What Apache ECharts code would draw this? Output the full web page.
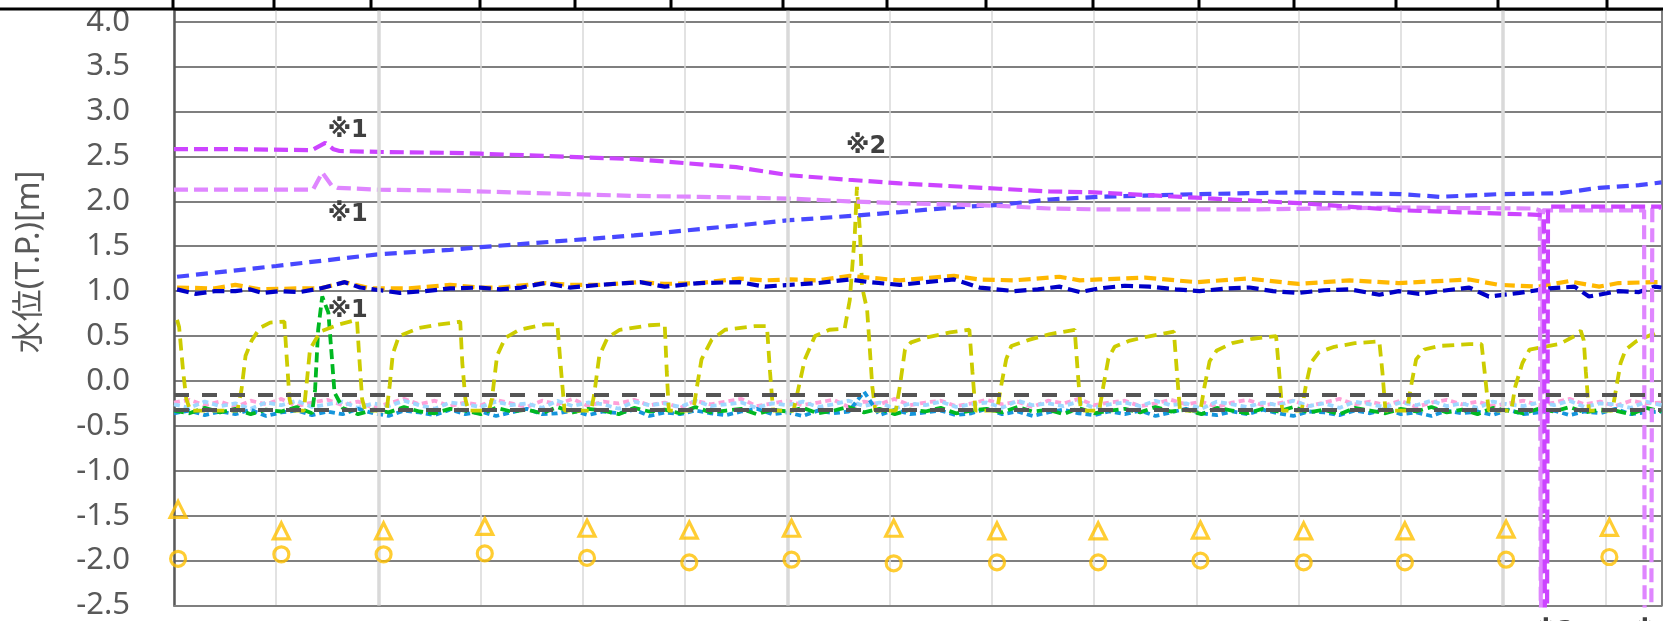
<!DOCTYPE html>
<html>
<head>
<meta charset="utf-8">
<title>水位</title>
<script src="https://cdn.jsdelivr.net/npm/echarts@6/dist/echarts.min.js"></script>
<style>
  html, body { margin: 0; padding: 0; background: #fff; }
  #chart { width: 1663px; height: 621px; }
</style>
</head>
<body>
<div id="chart"></div>
<script>
// x unit = one vertical grid interval (monthly), y = 水位 T.P.[m]
const yTicks = { min: -2.5, max: 4.13, step: 0.5 }

// upper lines, [x, y]
const magentaLine = [[0, 2.58], [0.6, 2.58], [1.35, 2.57], [1.48, 2.65], [1.56, 2.58], [1.62, 2.56], [2.0, 2.55],
  [2.7, 2.54], [3.0, 2.53], [4.5, 2.47], [5.5, 2.38], [6.02, 2.29], [6.6, 2.24], [7.1, 2.2], [8.07, 2.14],
  [8.56, 2.11], [9.0, 2.1], [10.0, 2.04], [11.0, 1.98], [12.0, 1.9], [12.8, 1.87], [13.34, 1.85],
  [13.4, 1.84], [13.41, -3], [13.43, -3], [13.44, 1.94], [14.55, 1.94]]
const lightPinkLine = [[0, 2.13], [1.36, 2.13], [1.45, 2.32], [1.54, 2.18], [1.6, 2.15], [2.0, 2.13], [2.7, 2.12],
  [4.5, 2.06], [5.14, 2.05], [6.02, 2.03], [6.6, 2.0], [7.1, 1.98], [8.07, 1.95], [8.56, 1.92], [9.05, 1.91],
  [10.5, 1.91], [12.0, 1.93], [13.3, 1.92], [13.36, 1.9], [13.37, -3], [13.38, -3], [13.39, 1.9],
  [14.38, 1.9], [14.385, -3], [14.45, -3], [14.46, 1.92], [14.55, 1.93]]
const blueLine = [[0.03, 1.16], [1.0, 1.28], [2.0, 1.41], [2.7, 1.46], [3.0, 1.49], [4.5, 1.62], [5.5, 1.73],
  [6.02, 1.79], [6.66, 1.84], [7.1, 1.88], [7.6, 1.93], [8.07, 1.96], [8.56, 2.02], [9.05, 2.05], [10.0, 2.08],
  [11.0, 2.1], [12.0, 2.08], [12.38, 2.05], [12.96, 2.08], [13.55, 2.09], [13.94, 2.15], [14.33, 2.18], [14.55, 2.21]]
const darkBlueLine = [[0.03, 1.02], [0.21, 0.97], [0.4, 1.0], [0.6, 1.0], [0.74, 1.02], [0.86, 0.98], [1.03, 1.0],
  [1.23, 0.99], [1.43, 1.03], [1.67, 1.1], [1.82, 1.04], [2.02, 1.01], [2.21, 0.98], [2.45, 1.0], [2.7, 1.03],
  [2.99, 1.04], [3.19, 1.02], [3.4, 1.04], [3.63, 1.09], [3.87, 1.04], [4.16, 1.07], [4.56, 1.1], [4.8, 1.05],
  [5.14, 1.09], [5.53, 1.1], [5.78, 1.05], [6.02, 1.07], [6.3, 1.09], [6.61, 1.13], [6.8, 1.1], [7.1, 1.07],
  [7.35, 1.1], [7.63, 1.13], [7.88, 1.04], [8.22, 1.0], [8.45, 1.02], [8.66, 1.05], [8.86, 0.99], [9.05, 1.03],
  [9.3, 1.06], [9.54, 1.05], [9.8, 1.02], [10.03, 1.0], [10.3, 1.03], [10.52, 1.04], [10.75, 1.0], [11.0, 0.98],
  [11.25, 1.01], [11.5, 1.02], [11.79, 0.96], [11.98, 1.0], [12.18, 0.97], [12.45, 1.01], [12.67, 1.04],
  [12.86, 0.94], [13.16, 0.98], [13.45, 1.03], [13.7, 1.05], [13.84, 0.94], [14.13, 1.0], [14.33, 0.99],
  [14.48, 1.05], [14.55, 1.04]]
const orangeLine = [[0.03, 1.04], [0.4, 1.03], [0.6, 1.07], [0.84, 1.02], [1.2, 1.03], [1.43, 1.03], [1.67, 1.1],
  [1.92, 1.03], [2.3, 1.03], [2.7, 1.07], [2.99, 1.04], [3.19, 1.04], [3.63, 1.09], [3.87, 1.07], [4.16, 1.07],
  [4.56, 1.1], [4.8, 1.08], [5.14, 1.09], [5.53, 1.14], [5.78, 1.12], [6.02, 1.13], [6.3, 1.12], [6.61, 1.17],
  [7.1, 1.12], [7.63, 1.17], [7.88, 1.13], [8.22, 1.12], [8.66, 1.16], [8.86, 1.12], [9.05, 1.13], [9.5, 1.15],
  [10.0, 1.1], [10.5, 1.14], [11.0, 1.08], [11.5, 1.12], [11.98, 1.09], [12.67, 1.13], [12.96, 1.07],
  [13.34, 1.05], [13.64, 1.11], [13.94, 1.05], [14.13, 1.09], [14.48, 1.1], [14.55, 1.1]]
const yellowLine = [[0.03, 0.68], [0.05, 0.6], [0.09, 0.1], [0.12, -0.2], [0.16, -0.33],
  [0.62, -0.33], [0.66, -0.1], [0.7, 0.28], [0.76, 0.45], [0.84, 0.59], [0.94, 0.65], [1.08, 0.66], [1.1, 0.3], [1.13, -0.2], [1.16, -0.33],
  [1.27, -0.33], [1.3, 0.0], [1.33, 0.35], [1.43, 0.55], [1.62, 0.63], [1.79, 0.68], [1.81, 0.3], [1.84, -0.2], [1.87, -0.33],
  [2.08, -0.33], [2.11, -0.05], [2.14, 0.3], [2.2, 0.5], [2.4, 0.59], [2.6, 0.63], [2.8, 0.66], [2.82, 0.2], [2.85, -0.2], [2.88, -0.33],
  [3.08, -0.33], [3.11, -0.2], [3.16, 0.28], [3.24, 0.48], [3.38, 0.57], [3.63, 0.63], [3.75, 0.63], [3.78, 0.2], [3.82, -0.33],
  [4.08, -0.33], [4.11, -0.15], [4.16, 0.28], [4.24, 0.48], [4.36, 0.57], [4.65, 0.62], [4.8, 0.63], [4.82, 0.1], [4.84, -0.33],
  [5.08, -0.33], [5.11, -0.1], [5.16, 0.24], [5.26, 0.46], [5.39, 0.57], [5.68, 0.61], [5.8, 0.61], [5.83, 0.1], [5.86, -0.33],
  [6.06, -0.33], [6.12, -0.02], [6.17, 0.24], [6.27, 0.5], [6.41, 0.57], [6.56, 0.58], [6.61, 0.9], [6.66, 1.65], [6.68, 2.16],
  [6.71, 1.65], [6.73, 1.05], [6.78, 0.79], [6.8, 0.46], [6.83, -0.06], [6.86, -0.33],
  [7.06, -0.33], [7.1, -0.06], [7.15, 0.35], [7.21, 0.43], [7.34, 0.48], [7.59, 0.54], [7.78, 0.57], [7.81, 0.1], [7.84, -0.33],
  [8.05, -0.33], [8.09, -0.06], [8.14, 0.24], [8.19, 0.39], [8.37, 0.46], [8.56, 0.52], [8.81, 0.57], [8.84, 0.1], [8.87, -0.33],
  [9.05, -0.33], [9.09, -0.06], [9.14, 0.25], [9.2, 0.38], [9.35, 0.45], [9.55, 0.5], [9.78, 0.55], [9.81, 0.1], [9.84, -0.33],
  [10.04, -0.33], [10.08, -0.06], [10.13, 0.22], [10.2, 0.34], [10.35, 0.42], [10.55, 0.47], [10.78, 0.5], [10.81, 0.1], [10.84, -0.33],
  [11.03, -0.33], [11.07, -0.06], [11.12, 0.2], [11.2, 0.32], [11.35, 0.38], [11.55, 0.42], [11.79, 0.44], [11.82, 0.1], [11.85, -0.33],
  [12.06, -0.33], [12.1, -0.06], [12.15, 0.24], [12.23, 0.35], [12.38, 0.39], [12.67, 0.41], [12.79, 0.41], [12.82, 0.1], [12.86, -0.33],
  [13.08, -0.33], [13.12, -0.06], [13.19, 0.2], [13.26, 0.35], [13.35, 0.37], [13.55, 0.41], [13.7, 0.5], [13.76, 0.56], [13.79, 0.45], [13.81, 0.1], [13.84, -0.33],
  [14.07, -0.33], [14.11, -0.06], [14.15, 0.2], [14.2, 0.35], [14.3, 0.44], [14.5, 0.54], [14.55, 0.55]]

// lower noisy lines, one value every 0.15
const noiseStep = 0.15
const skyBlueVals = [-0.36, -0.33, -0.38, -0.34, -0.37, -0.32, -0.39, -0.35, -0.33, -0.38,
  -0.34, -0.37, -0.31, -0.36, -0.39, -0.33, -0.35, -0.38, -0.32, -0.37,
  -0.34, -0.39, -0.35, -0.31, -0.37, -0.36, -0.33, -0.38, -0.34, -0.36,
  -0.32, -0.39, -0.35, -0.37, -0.33, -0.36, -0.38, -0.34, -0.31, -0.37,
  -0.35, -0.39, -0.33, -0.36, -0.34, -0.12, -0.38, -0.32, -0.37, -0.35,
  -0.33, -0.38, -0.36, -0.31, -0.37, -0.34, -0.39, -0.35, -0.32, -0.36,
  -0.38, -0.34, -0.37, -0.33, -0.39, -0.35, -0.31, -0.36, -0.38, -0.34,
  -0.37, -0.32, -0.36, -0.39, -0.34, -0.35, -0.38, -0.33, -0.36, -0.31,
  -0.37, -0.35, -0.39, -0.33, -0.36, -0.34, -0.38, -0.32, -0.37, -0.35,
  -0.33, -0.38, -0.34, -0.36, -0.31, -0.37, -0.35, -0.34]
const lightBlueVals = [-0.26, -0.30, -0.23, -0.28, -0.25, -0.31, -0.24, -0.27, -0.22, -0.29,
  -0.26, -0.23, -0.30, -0.25, -0.28, -0.22, -0.27, -0.31, -0.24, -0.26,
  -0.29, -0.23, -0.27, -0.25, -0.30, -0.22, -0.28, -0.24, -0.26, -0.31,
  -0.23, -0.27, -0.25, -0.29, -0.22, -0.28, -0.26, -0.24, -0.30, -0.25,
  -0.27, -0.23, -0.29, -0.26, -0.22, -0.28, -0.24, -0.31, -0.25, -0.27,
  -0.23, -0.29, -0.26, -0.24, -0.30, -0.22, -0.27, -0.25, -0.28, -0.23,
  -0.30, -0.26, -0.24, -0.28, -0.22, -0.27, -0.25, -0.31, -0.23, -0.26,
  -0.29, -0.24, -0.27, -0.22, -0.28, -0.25, -0.30, -0.23, -0.26, -0.29,
  -0.24, -0.27, -0.22, -0.28, -0.25, -0.30, -0.23, -0.26, -0.28, -0.24,
  -0.27, -0.22, -0.29, -0.25, -0.26, -0.30, -0.23, -0.27]
const pinkVals = [-0.24, -0.21, -0.27, -0.23, -0.29, -0.22, -0.26, -0.20, -0.28, -0.24,
  -0.21, -0.27, -0.23, -0.30, -0.25, -0.20, -0.26, -0.22, -0.28, -0.24,
  -0.27, -0.21, -0.25, -0.29, -0.22, -0.26, -0.20, -0.28, -0.23, -0.25,
  -0.21, -0.27, -0.24, -0.30, -0.22, -0.26, -0.23, -0.20, -0.28, -0.25,
  -0.22, -0.27, -0.24, -0.21, -0.29, -0.23, -0.26, -0.20, -0.27, -0.24,
  -0.22, -0.28, -0.25, -0.21, -0.26, -0.23, -0.29, -0.22, -0.25, -0.20,
  -0.27, -0.24, -0.22, -0.28, -0.25, -0.21, -0.26, -0.23, -0.29, -0.24,
  -0.21, -0.27, -0.25, -0.22, -0.28, -0.24, -0.20, -0.26, -0.23, -0.27,
  -0.22, -0.29, -0.24, -0.21, -0.26, -0.23, -0.28, -0.25, -0.22, -0.27,
  -0.24, -0.20, -0.26, -0.23, -0.28, -0.22, -0.25, -0.24]
const greenVals = [-0.33, -0.36, -0.30, -0.35, -0.31, -0.37, -0.32, -0.34, -0.29, -0.36,
  -0.33, -0.30, -0.37, -0.32, -0.35, -0.29, -0.34, -0.36, -0.31, -0.33,
  -0.37, -0.30, -0.34, -0.32, -0.36, -0.29, -0.35, -0.31, -0.33, -0.37,
  -0.30, -0.34, -0.32, -0.36, -0.29, -0.35, -0.33, -0.31, -0.37, -0.32,
  -0.34, -0.30, -0.36, -0.33, -0.29, -0.35, -0.31, -0.37, -0.32, -0.34,
  -0.30, -0.36, -0.33, -0.31, -0.35, -0.29, -0.34, -0.32, -0.37, -0.30,
  -0.36, -0.33, -0.31, -0.35, -0.29, -0.34, -0.32, -0.37, -0.30, -0.33,
  -0.36, -0.31, -0.34, -0.29, -0.35, -0.32, -0.37, -0.30, -0.33, -0.36,
  -0.31, -0.34, -0.29, -0.35, -0.32, -0.37, -0.30, -0.33, -0.36, -0.31,
  -0.34, -0.29, -0.35, -0.32, -0.33, -0.37, -0.30, -0.34]
const greenSpike = [[1.38, -0.1], [1.41, 0.57], [1.45, 0.94], [1.51, 0.76], [1.54, 0.32], [1.57, -0.13]]

// reference levels (gray dashed)
const refLevels = [-0.15, -0.32]

// monthly measurements
const markX = [0.04, 1.05, 2.05, 3.04, 4.04, 5.04, 6.04, 7.04, 8.05, 9.04, 10.04, 11.05, 12.04, 13.03, 14.04]
const triangleVals = [-1.43, -1.67, -1.67, -1.62, -1.64, -1.66, -1.64, -1.64, -1.67, -1.67, -1.66, -1.67, -1.67, -1.65, -1.63]
const circleVals = [-1.98, -1.93, -1.93, -1.92, -1.97, -2.02, -1.99, -2.03, -2.02, -2.02, -2.0, -2.02, -2.02, -1.99, -1.96]

// notes
const notes = [
  { text: '※1', x: 1.7, y: 2.78 },
  { text: '※1', x: 1.7, y: 1.85 },
  { text: '※1', x: 1.7, y: 0.78 },
  { text: '※2', x: 6.77, y: 2.61 }
]
const bottomNotes = [{ text: '※3', x: 13.5 }, { text: '※4', x: 14.47 }]

// thicker vertical grid lines
const thickGridX = [2, 6, 13]

// header cell borders (decoration above plot)
const headerX = [173, 274, 371, 480, 575, 671, 783, 887, 986, 1093, 1199, 1294, 1396, 1498, 1607]

const FONT = '"DejaVu Sans", "Noto Sans CJK JP", sans-serif'
const LABEL_FONT = '"Noto Sans", "Noto Sans CJK JP", sans-serif'

function toPairs(vals) {
  return vals.map((v, i) => [+(i * noiseStep).toFixed(2), v])
}

function dashed(name, data, color, width, dash, z) {
  return {
    name: name,
    type: 'line',
    data: data,
    symbol: 'none',
    z: z || 2,
    lineStyle: { color: color, width: width, type: dash, cap: 'butt' }
  }
}

const greenData = toPairs(greenVals)
  .filter(p => p[0] < 1.36 || p[0] > 1.6)
  .concat(greenSpike)
  .sort((a, b) => a[0] - b[0])

const chart = echarts.init(document.getElementById('chart'))

const headerGraphics = [
  { type: 'rect', shape: { x: 0, y: 0, width: 1663, height: 10 }, style: { fill: '#fff' }, z: 100 },
  { type: 'line', shape: { x1: 0, y1: 9, x2: 1663, y2: 9 }, style: { stroke: '#000', lineWidth: 3 }, z: 101 }
].concat(headerX.map(x => ({
  type: 'line', shape: { x1: x, y1: 0, x2: x, y2: 9 }, style: { stroke: '#000', lineWidth: 3 }, z: 101
})))

chart.setOption({
  animation: false,
  backgroundColor: '#fff',
  grid: { left: 174, right: 1.5, top: 10, bottom: 14.5 },
  xAxis: {
    type: 'value',
    min: 0,
    max: 14.55,
    interval: 1,
    axisLine: { show: true, onZero: false, lineStyle: { color: '#7f7f7f', width: 2 } },
    axisTick: { show: false },
    axisLabel: { show: false },
    splitLine: { show: true, lineStyle: { color: '#d9d9d9', width: 1.5 } }
  },
  yAxis: [{
    type: 'value',
    min: yTicks.min,
    max: yTicks.max,
    interval: yTicks.step,
    axisLine: { show: true, lineStyle: { color: '#595959', width: 2.5 } },
    axisTick: { show: false },
    axisLabel: {
      color: '#595959',
      fontSize: 31,
      fontFamily: LABEL_FONT,
      margin: 44,
      padding: [0, 0, 8, 0],
      showMaxLabel: false,
      formatter: v => (Math.abs(v * 2 - Math.round(v * 2)) < 1e-6 ? v.toFixed(1) : '')
    },
    splitLine: { show: true, lineStyle: { color: '#7f7f7f', width: 2 } }
  }, {
    type: 'value',
    position: 'right',
    min: yTicks.min,
    max: yTicks.max,
    axisLine: { show: true, lineStyle: { color: '#7f7f7f', width: 2 } },
    axisTick: { show: false },
    axisLabel: { show: false },
    splitLine: { show: false }
  }],
  graphic: headerGraphics.concat([{
    type: 'text',
    x: 30,
    y: 262,
    rotation: Math.PI / 2,
    z: 50,
    style: {
      text: '水位(T.P.)[m]',
      fill: '#595959',
      font: '32px ' + LABEL_FONT,
      textAlign: 'center',
      textVerticalAlign: 'middle'
    }
  }]),
  series: [
    {
      name: 'grid',
      type: 'line',
      data: [],
      z: 1,
      markLine: {
        silent: true,
        symbol: 'none',
        label: { show: false },
        lineStyle: { color: '#d9d9d9', width: 3.5, type: 'solid' },
        data: thickGridX.map(x => ({ xAxis: x }))
      }
    },
    dashed('pink', toPairs(pinkVals), '#ffa0d8', 3.8, [6, 4]),
    dashed('lightblue', toPairs(lightBlueVals), '#9fd8ff', 3.8, [6, 4]),
    dashed('skyblue', toPairs(skyBlueVals), '#1595dc', 3.8, [6, 4]),
    dashed('green', greenData, '#00b822', 3.8, [10, 5]),
    dashed('yellow', yellowLine, '#cccc00', 3.8, [12, 7]),
    dashed('orange', orangeLine, '#ffb800', 4.2, [12, 6]),
    dashed('darkblue', darkBlueLine, '#0000c8', 4.2, [12, 6]),
    dashed('blue', blueLine, '#4848ff', 4.2, [12, 7]),
    dashed('lightpink', lightPinkLine, '#df86ff', 4.2, [14, 6]),
    dashed('magenta', magentaLine, '#cc44ff', 4.2, [14, 6]),
    {
      name: 'ref',
      type: 'line',
      data: [],
      z: 5,
      markLine: {
        silent: true,
        symbol: 'none',
        label: { show: false },
        lineStyle: { color: '#555555', width: 4, type: [15, 13] },
        data: refLevels.map(v => ({ yAxis: v }))
      }
    },
    {
      name: 'triangle',
      type: 'scatter',
      data: markX.map((x, i) => [x, triangleVals[i]]),
      symbol: 'triangle',
      symbolSize: 16,
      z: 6,
      itemStyle: { color: 'rgba(0,0,0,0)', borderColor: '#ffc000', borderWidth: 3.2 }
    },
    {
      name: 'circle',
      type: 'scatter',
      data: markX.map((x, i) => [x, circleVals[i]]),
      symbol: 'circle',
      symbolSize: 15,
      z: 6,
      itemStyle: { color: 'rgba(0,0,0,0)', borderColor: '#ffc000', borderWidth: 3.2 }
    },
    {
      name: 'notes',
      type: 'line',
      data: [],
      z: 7,
      markPoint: {
        silent: true,
        symbol: 'circle',
        symbolSize: 1,
        itemStyle: { color: 'rgba(0,0,0,0)' },
        label: {
          show: true,
          position: 'inside',
          color: '#404040',
          fontSize: 24,
          fontWeight: 'bold',
          fontFamily: FONT,
          formatter: p => p.name
        },
        data: notes.map(n => ({ name: n.text, coord: [n.x, n.y] }))
          .concat(bottomNotes.map(n => ({
            name: n.text, coord: [n.x, yTicks.min], label: { offset: [0, 26] }
          })))
      }
    }
  ]
})
</script>
</body>
</html>
